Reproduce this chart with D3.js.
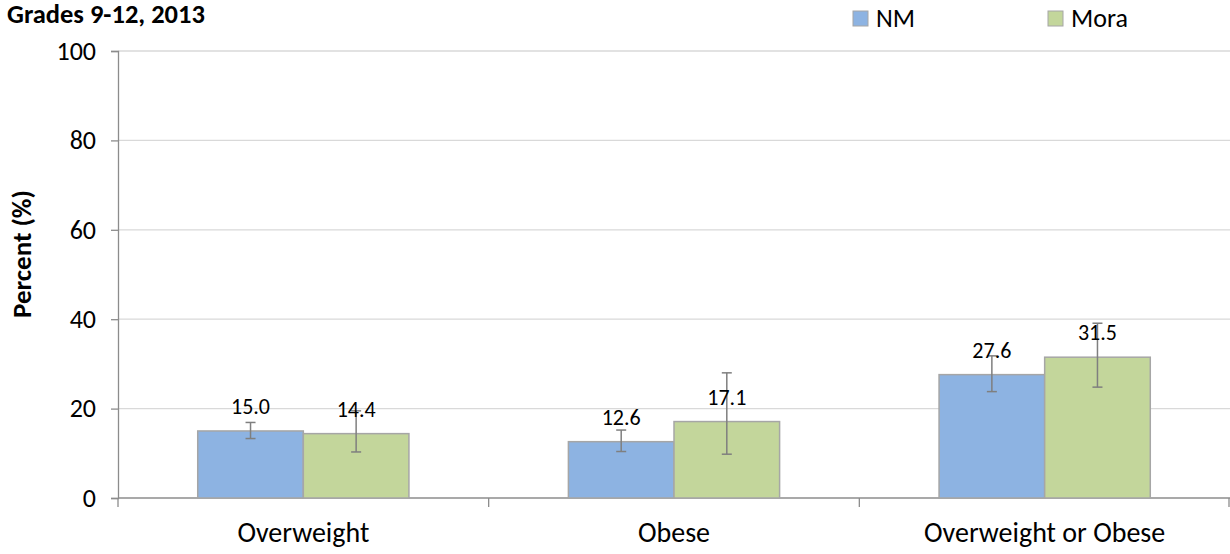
<!DOCTYPE html>
<html><head><meta charset="utf-8">
<script src="https://cdn.jsdelivr.net/npm/d3@7"></script>
<style>
body{margin:0;background:#fff;}
text{font-family:Carlito,Calibri,Lato,"Open Sans",sans-serif;}
</style></head>
<body><svg id="chart" width="1230" height="554"></svg>
<script>
const categories = ["Overweight", "Obese", "Overweight or Obese"];
const seriesNames = ["NM", "Mora"];
const nmValues = [15.0, 12.6, 27.6];
const moraValues = [14.4, 17.1, 31.5];
const nmLow = [13.3, 10.4, 23.8];
const nmHigh = [16.9, 15.2, 31.8];
const moraLow = [10.3, 9.8, 24.8];
const moraHigh = [19.5, 28.0, 39.1];
const yTicks = [0, 20, 40, 60, 80, 100];
const colors = ["#8db3e2", "#c3d69b"];

(function(){
const svg = d3.select("#chart");
const mLeft = 118, mRight = 1230, mTop = 51, mBottom = 498;
const x = d3.scaleBand().domain(categories).range([mLeft, mRight]).paddingInner(0).paddingOuter(0);
const xs = d3.scaleBand().domain(seriesNames).range([0, x.bandwidth()]).paddingInner(0).paddingOuter(0.755);
const y = d3.scaleLinear().domain([0, 100]).range([mBottom, mTop]);

svg.append("g").selectAll("line").data(yTicks.filter(d => d > 0)).join("line")
  .attr("x1", mLeft).attr("x2", mRight).attr("y1", d => y(d)).attr("y2", d => y(d))
  .attr("stroke", "#d9d9d9").attr("stroke-width", 1.3);

const yAxis = svg.append("g").attr("transform", `translate(${mLeft},0)`)
  .call(d3.axisLeft(y).tickValues(yTicks).tickSize(7).tickPadding(15));
yAxis.select(".domain").attr("stroke", "#8c8c8c").attr("stroke-width", 1.3);
yAxis.selectAll(".tick line").attr("stroke", "#8c8c8c").attr("stroke-width", 1.3);
yAxis.selectAll("text").attr("font-size", 26).attr("fill", "#000").style("font-family", "Carlito,Calibri,Lato,sans-serif");

const xAxisG = svg.append("g").attr("transform", `translate(0,${mBottom})`);
xAxisG.append("line").attr("x1", mLeft).attr("x2", mRight).attr("stroke", "#8c8c8c").attr("stroke-width", 1.3);
const bounds = categories.map(c => x(c)).concat([mRight - 1]);
xAxisG.selectAll(".tk").data(bounds).join("line").attr("class", "tk")
  .attr("x1", d => d).attr("x2", d => d).attr("y1", 0).attr("y2", 9)
  .attr("stroke", "#8c8c8c").attr("stroke-width", 1.3);
xAxisG.selectAll(".lbl").data(categories).join("text").attr("class", "lbl")
  .attr("x", d => x(d) + x.bandwidth() / 2).attr("y", 44)
  .attr("text-anchor", "middle").attr("font-size", 28).attr("fill", "#000").text(d => d);

const data = [
  {name: "NM", vals: nmValues, lo: nmLow, hi: nmHigh, color: colors[0]},
  {name: "Mora", vals: moraValues, lo: moraLow, hi: moraHigh, color: colors[1]}
];

data.forEach(s => {
  const g = svg.append("g");
  const pts = categories.map((c, i) => ({c, v: s.vals[i], lo: s.lo[i], hi: s.hi[i]}));
  g.selectAll("rect").data(pts).join("rect")
    .attr("x", d => x(d.c) + xs(s.name)).attr("width", xs.bandwidth())
    .attr("y", d => y(d.v)).attr("height", d => y(0) - y(d.v))
    .attr("fill", s.color).attr("stroke", "#a6a6a6").attr("stroke-width", 1.5);
});

data.forEach(s => {
  const g = svg.append("g");
  const pts = categories.map((c, i) => ({c, v: s.vals[i], lo: s.lo[i], hi: s.hi[i]}));
  const cx = d => x(d.c) + xs(s.name) + xs.bandwidth() / 2;
  g.selectAll(".eb").data(pts).join("line").attr("class", "eb")
    .attr("x1", cx).attr("x2", cx).attr("y1", d => y(d.lo)).attr("y2", d => y(d.hi))
    .attr("stroke", "#7f7f7f").attr("stroke-width", 1.5);
  ["lo", "hi"].forEach(k => {
    g.selectAll(".cap" + k).data(pts).join("line").attr("class", "cap" + k)
      .attr("x1", d => cx(d) - 5).attr("x2", d => cx(d) + 5)
      .attr("y1", d => y(d[k])).attr("y2", d => y(d[k]))
      .attr("stroke", "#7f7f7f").attr("stroke-width", 1.5);
  });
  g.selectAll(".vl").data(pts).join("text").attr("class", "vl")
    .attr("x", cx).attr("y", d => y(d.v) - 17)
    .attr("text-anchor", "middle").attr("font-size", 22).attr("fill", "#000")
    .text(d => d.v.toFixed(1));
});

svg.append("text").attr("x", 7).attr("y", 23).attr("font-size", 26.5).attr("font-weight", "bold").text("Grades 9-12, 2013");
svg.append("text").attr("transform", "translate(31,254) rotate(-90)").attr("text-anchor", "middle")
  .attr("font-size", 27).attr("font-weight", "bold").text("Percent (%)");

const legX = [853, 1048];
data.forEach((s, i) => {
  svg.append("rect").attr("x", legX[i]).attr("y", 11).attr("width", 15).attr("height", 15)
    .attr("fill", s.color).attr("stroke", "#a6a6a6").attr("stroke-width", 1);
  svg.append("text").attr("x", legX[i] + 23).attr("y", 27).attr("font-size", 26).text(s.name);
});
})();
</script></body></html>
